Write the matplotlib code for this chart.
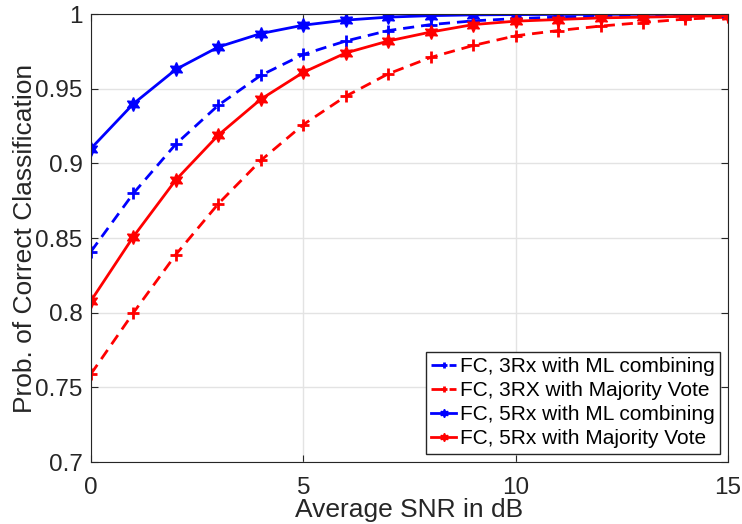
import matplotlib
matplotlib.use('Agg')
import matplotlib.pyplot as plt

plt.rcParams['font.family'] = ['Liberation Sans', 'DejaVu Sans']

# data
snr_db = list(range(16))
ml_3rx = [0.841, 0.880, 0.913, 0.939, 0.959, 0.973, 0.982, 0.989, 0.993, 0.9955,
          0.997, 0.998, 0.9986, 0.999, 0.9993, 0.9995]
mv_3rx = [0.759, 0.800, 0.839, 0.873, 0.902, 0.926, 0.945, 0.960, 0.971, 0.979,
          0.9855, 0.989, 0.992, 0.9944, 0.9967, 0.998]
ml_5rx = [0.910, 0.940, 0.963, 0.978, 0.987, 0.9926, 0.996, 0.998, 0.999, 0.9995,
          0.9997, 0.9998, 0.9999, 0.9999, 1.0, 1.0]
mv_5rx = [0.808, 0.851, 0.889, 0.919, 0.943, 0.961, 0.974, 0.982, 0.988, 0.993,
          0.9953, 0.9964, 0.9975, 0.998, 0.9985, 0.999]
labels = ['FC, 3Rx with ML combining', 'FC, 3RX with Majority Vote',
          'FC, 5Rx with ML combining', 'FC, 5Rx with Majority Vote']

fig = plt.figure(figsize=(7.42, 5.24), dpi=100)
ax = fig.add_axes([0.1226, 0.1183, 0.8584, 0.8547])

hexagram = (6, 1, 0)
dash = (0, (4, 2.5))
ax.plot(snr_db, ml_3rx, ls=dash, color='blue', marker='+', ms=8, mew=2, lw=2, label=labels[0])
ax.plot(snr_db, mv_3rx, ls=dash, color='red', marker='+', ms=8, mew=2, lw=2, label=labels[1])
ax.plot(snr_db, ml_5rx, '-', color='blue', marker=hexagram, ms=10, lw=2, label=labels[2])
ax.plot(snr_db, mv_5rx, '-', color='red', marker=hexagram, ms=10, lw=2, label=labels[3])

ax.set_xlim(0, 15)
ax.set_ylim(0.7, 1.0)
ax.set_xticks([0, 5, 10, 15])
ax.set_yticks([0.7, 0.75, 0.8, 0.85, 0.9, 0.95, 1.0])
ax.set_yticklabels(['0.7', '0.75', '0.8', '0.85', '0.9', '0.95', '1'])
ax.grid(True, color='#e3e3e3', lw=1)
ax.set_axisbelow(True)
ax.tick_params(direction='in', top=True, right=True, labelsize=17.5, colors='#262626',
               length=5)
ax.tick_params(axis='x', pad=11)
ax.tick_params(axis='y', pad=6)
for s in ax.spines.values():
    s.set_color('#262626')
ax.set_xlabel('Average SNR in dB', fontsize=19, color='#262626', labelpad=-1)
ax.set_ylabel('Prob. of Correct Classification', fontsize=19, color='#262626', labelpad=-1)

leg = ax.legend(loc='lower right', fontsize=15, handlelength=1.2, handletextpad=0.15,
                labelspacing=0.25, borderpad=0.25, borderaxespad=0.4, fancybox=False,
                edgecolor='#262626', framealpha=1, markerscale=0.6)
leg.get_frame().set_linewidth(1)

fig.savefig('out.png', dpi=100)
